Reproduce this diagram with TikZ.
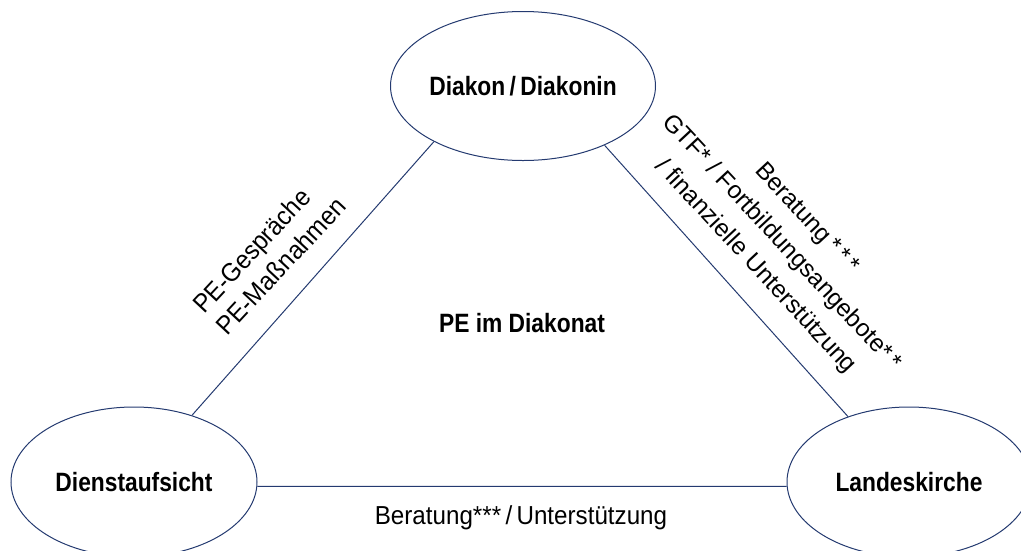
\documentclass[tikz,border=0pt]{standalone}
\usepackage{fontspec}
\setmainfont{Liberation Sans}
\newfontfamily\condfont{Liberation Sans}[FakeStretch=0.86]
\newfontfamily\narrowfont{Liberation Sans}[FakeStretch=0.93]
\usetikzlibrary{shapes.geometric}
\definecolor{edgeblue}{RGB}{36,58,112}
\tikzset{
  party/.style={ellipse, draw=edgeblue, line width=1pt, inner sep=0pt,
    minimum width=245pt, minimum height=149pt,
    font=\condfont\bfseries\fontsize{26.5}{30}\selectfont},
  link/.style={draw=edgeblue, line width=1pt},
  sidelabel/.style={inner sep=0pt, font=\narrowfont\fontsize{26}{32}\selectfont},
  rightlabel/.style={inner sep=0pt, align=center, font=\fontsize{24.5}{35}\selectfont},
  titlelabel/.style={inner sep=0pt, font=\condfont\bfseries\fontsize{26.5}{30}\selectfont}
}
\begin{document}
\begin{tikzpicture}[x=1pt,y=-1pt]
\useasboundingbox (0,0) rectangle (1021,550);
\clip (0,0) rectangle (1021,550);
\node[party] (top) at (523,86) {Diakon\,/\,Diakonin};
\node[party, minimum width=246pt, minimum height=150pt] (left) at (134,482) {Dienstaufsicht};
\node[party, minimum width=244pt, minimum height=150pt] (right) at (909,482) {Landeskirche};
\draw[link] (top.212.6) -- (left.49.2);
\draw[link] (top.324.2) -- (right.133.6);
\draw[link] (left.-2.8) -- (right.182.8);
\node[titlelabel] (center) at (522,323) {PE im Diakonat};
\node[sidelabel] (bottomlabel) at (521,518) {Beratung***\,/\,Unterstützung};
\node[sidelabel, align=left, rotate=47] (leftlabel) at (269,255) {PE-Gespräche\\PE-Maßnahmen};
\node[rightlabel, rotate=-47] (rightlabel) at (781,243) {Beratung\,*\,*\,*\\GTF* / Fortbildungsangebote*\,*\\/ finanzielle Unterstützung};
\end{tikzpicture}
\end{document}
